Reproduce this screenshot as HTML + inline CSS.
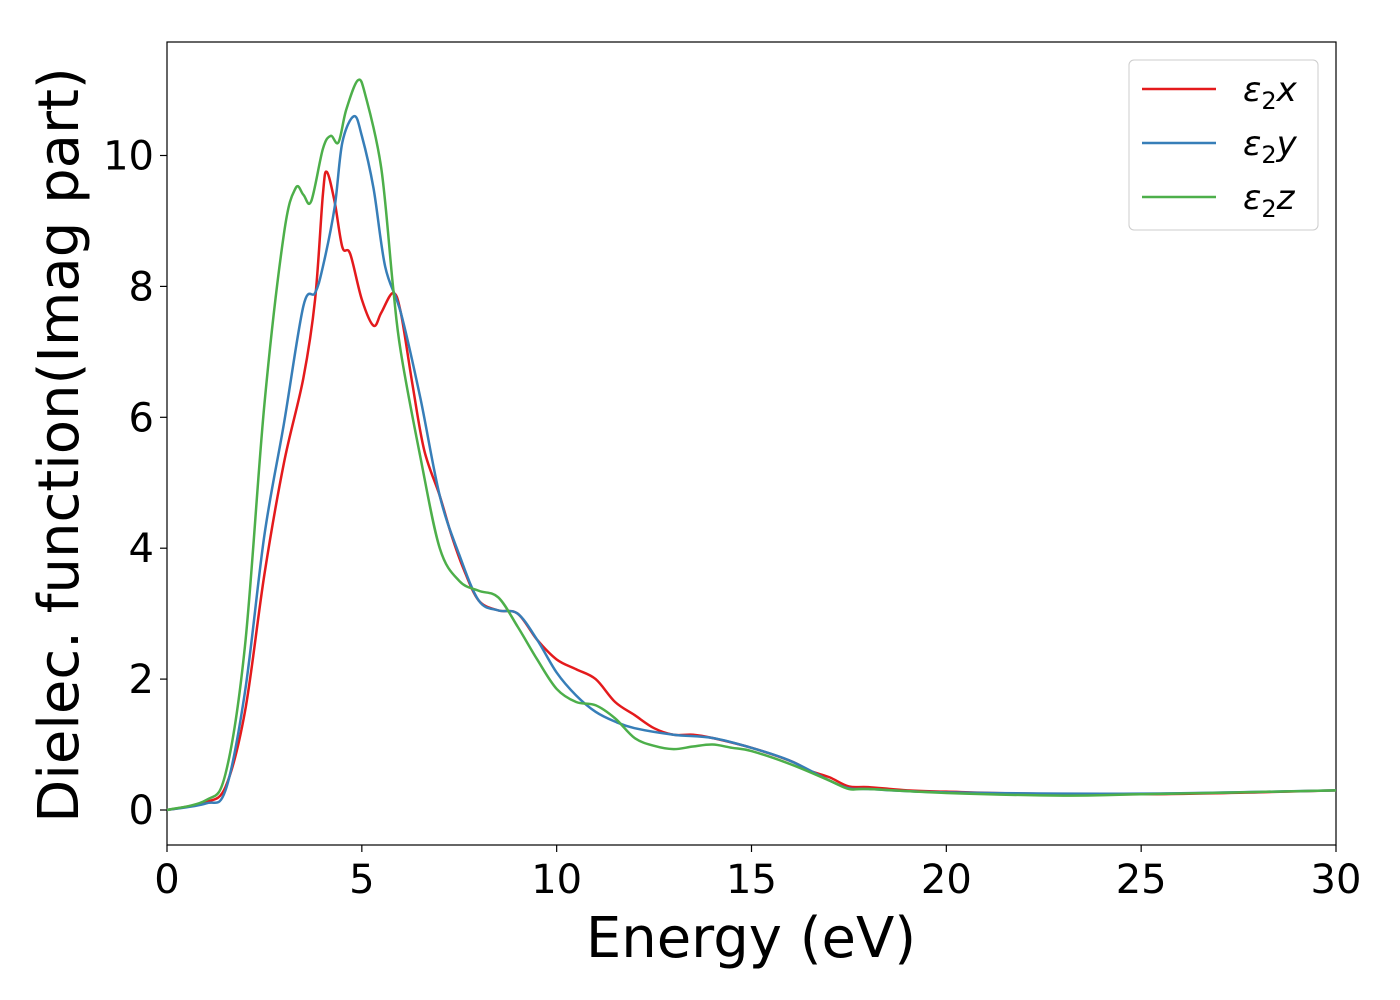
<!DOCTYPE html>
<html><head><meta charset="utf-8"><style>body{margin:0;background:#fff}svg{display:block}text{font-family:"DejaVu Sans","Liberation Sans",sans-serif}</style></head>
<body>
<svg id="chart" width="1400" height="1000" xmlns="http://www.w3.org/2000/svg">
<rect x="167" y="42" width="1169" height="803" fill="#fff" stroke="#000" stroke-width="1.2"/>
<g id="xt"></g>
<g id="yt"></g>
<g id="series"></g>
<text x="751" y="957" font-size="56" text-anchor="middle">Energy (eV)</text>
<text transform="translate(78,445) rotate(-90)" font-size="56" text-anchor="middle">Dielec. function(Imag part)</text>
<g>
<rect x="1129" y="60" width="189" height="170" rx="5" fill="#fff" stroke="#ccc"/>
<line x1="1142" y1="89" x2="1216" y2="89" stroke="#e41a1c" stroke-width="2.5"/>
<text x="1243" y="101" font-size="34" font-style="italic">ε<tspan font-size="24" dy="8" font-style="normal">2</tspan><tspan dy="-8">x</tspan></text>
<line x1="1142" y1="143" x2="1216" y2="143" stroke="#377eb8" stroke-width="2.5"/>
<text x="1243" y="155" font-size="34" font-style="italic">ε<tspan font-size="24" dy="8" font-style="normal">2</tspan><tspan dy="-8">y</tspan></text>
<line x1="1142" y1="197" x2="1216" y2="197" stroke="#4daf4a" stroke-width="2.5"/>
<text x="1243" y="209" font-size="34" font-style="italic">ε<tspan font-size="24" dy="8" font-style="normal">2</tspan><tspan dy="-8">z</tspan></text>
</g>
</svg>
<script>
const xTicks=[0,5,10,15,20,25,30];
const yTicks=[0,2,4,6,8,10];
const xE=[0,0.5,1,1.5,2,2.5,3,3.5,3.8,4.0,4.1,4.3,4.5,4.7,5.0,5.3,5.5,5.8,6.0,6.3,6.6,7,7.3,7.6,8,8.5,9,9.5,10,10.5,11,11.5,12,12.5,13,13.5,14,15,16,16.5,17,17.5,18,19,20,22,25,28,30];
const xV=[0,0.05,0.12,0.35,1.5,3.6,5.3,6.6,7.8,9.4,9.75,9.3,8.6,8.5,7.8,7.4,7.6,7.9,7.6,6.5,5.5,4.8,4.2,3.7,3.2,3.05,3.0,2.6,2.3,2.15,2.0,1.65,1.45,1.25,1.15,1.15,1.1,0.95,0.75,0.6,0.5,0.36,0.35,0.3,0.28,0.25,0.24,0.27,0.3];
const yE=[0,1,1.5,2,2.5,3,3.5,3.8,4.0,4.3,4.5,4.8,5.0,5.3,5.6,6,6.5,7,7.5,8,8.5,9,9.5,10,10.5,11,11.5,12,13,14,15,16,17,17.5,18,20,25,30];
const yV=[0,0.1,0.3,1.8,4.2,5.9,7.7,7.9,8.3,9.2,10.2,10.6,10.3,9.5,8.3,7.6,6.3,4.8,3.9,3.2,3.05,3.0,2.6,2.1,1.75,1.5,1.35,1.25,1.15,1.1,0.95,0.75,0.45,0.33,0.32,0.27,0.25,0.3];
const zE=[0,1,1.5,2,2.5,3,3.3,3.5,3.7,4,4.2,4.4,4.6,4.9,5.1,5.5,5.8,6,6.5,7,7.5,8,8.5,9,9.5,10,10.5,11,11.5,12,12.5,13,13.5,14,14.5,15,16,17,17.5,18,20,23,25,30];
const zV=[0,0.15,0.55,2.5,6.2,8.8,9.5,9.4,9.3,10.1,10.3,10.2,10.7,11.15,10.9,9.8,8.0,7.0,5.4,4.0,3.5,3.35,3.25,2.8,2.3,1.85,1.65,1.6,1.4,1.1,0.98,0.93,0.97,1.0,0.95,0.9,0.7,0.45,0.32,0.32,0.26,0.22,0.24,0.3];
const X=v=>167+v*(1169/30), Y=v=>810-v*65.45;
const NS="http://www.w3.org/2000/svg";
const xt=document.getElementById('xt'), yt=document.getElementById('yt'), sg=document.getElementById('series');
function mk(t,a,p){const e=document.createElementNS(NS,t);for(const k in a)e.setAttribute(k,a[k]);p.appendChild(e);return e;}
xTicks.forEach(v=>{
 const l=mk('line',{x1:X(v),x2:X(v),y1:845,y2:852,stroke:'#000','stroke-width':1.2},xt);
 
 
 const t=mk('text',{x:X(v),y:893,'font-size':40,'text-anchor':'middle'},xt);t.textContent=v;
 
 
});
yTicks.forEach(v=>{
 const l=mk('line',{x1:160,x2:167,y1:Y(v),y2:Y(v),stroke:'#000','stroke-width':1.2},yt);
 
 
 const t=mk('text',{x:154,y:Y(v)+14,'font-size':40,'text-anchor':'end'},yt);t.textContent=v;
 
 
});
function path(xs,vs){const p=xs.map((x,i)=>[X(x),Y(vs[i])]);let d='M'+p[0][0]+','+p[0][1];
 for(let i=0;i<p.length-1;i++){const p0=p[Math.max(0,i-1)],p1=p[i],p2=p[i+1],p3=p[Math.min(p.length-1,i+2)];
 d+=' C'+(p1[0]+(p2[0]-p0[0])/6)+','+(p1[1]+(p2[1]-p0[1])/6)+' '+(p2[0]-(p3[0]-p1[0])/6)+','+(p2[1]-(p3[1]-p1[1])/6)+' '+p2[0]+','+p2[1];}
 return d;}
[[xE,xV,'#e41a1c','series-eps2-x'],[yE,yV,'#377eb8','series-eps2-y'],[zE,zV,'#4daf4a','series-eps2-z']].forEach(s=>{
 const e=mk('path',{d:path(s[0],s[1]),fill:'none',stroke:s[2],'stroke-width':2.5},sg);
 
 
});
</script>
</body></html>
